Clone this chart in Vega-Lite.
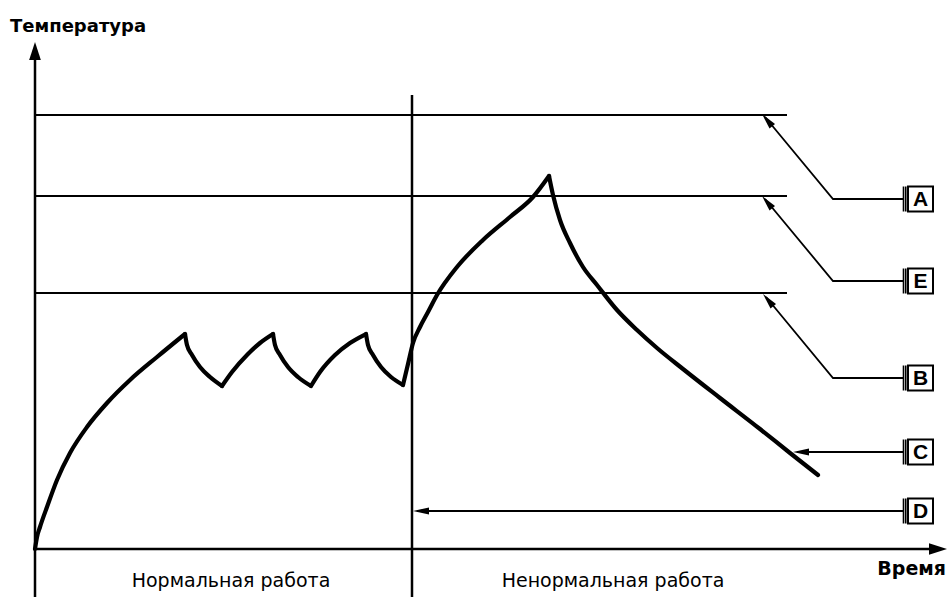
{
  "$schema": "https://vega.github.io/schema/vega-lite/v6.json",
  "width": 949,
  "height": 597,
  "padding": 0,
  "autosize": {"type": "none"},
  "background": "white",
  "config": {"view": {"stroke": null}},
  "datasets": {
    "curve": [
      {"seg": "a", "i": 0, "s": 0, "t": 0}, {"seg": "a", "i": 1, "s": 2, "t": 12}, {"seg": "a", "i": 2, "s": 5, "t": 22}, {"seg": "a", "i": 3, "s": 12, "t": 42},
      {"seg": "a", "i": 4, "s": 22, "t": 69}, {"seg": "a", "i": 5, "s": 35, "t": 96}, {"seg": "a", "i": 6, "s": 52, "t": 122}, {"seg": "a", "i": 7, "s": 72, "t": 146},
      {"seg": "a", "i": 8, "s": 95, "t": 169}, {"seg": "a", "i": 9, "s": 122, "t": 192}, {"seg": "a", "i": 10, "s": 150, "t": 215},
      {"seg": "b", "i": 10, "s": 150, "t": 215}, {"seg": "b", "i": 11, "s": 152, "t": 204}, {"seg": "b", "i": 12, "s": 157, "t": 194}, {"seg": "b", "i": 13, "s": 165, "t": 182}, {"seg": "b", "i": 14, "s": 175, "t": 172}, {"seg": "b", "i": 15, "s": 187, "t": 163},
      {"seg": "c", "i": 15, "s": 187, "t": 163}, {"seg": "c", "i": 16, "s": 197, "t": 177}, {"seg": "c", "i": 17, "s": 212, "t": 194}, {"seg": "c", "i": 18, "s": 225, "t": 206}, {"seg": "c", "i": 19, "s": 238, "t": 215},
      {"seg": "d", "i": 19, "s": 238, "t": 215}, {"seg": "d", "i": 20, "s": 240, "t": 204}, {"seg": "d", "i": 21, "s": 245, "t": 194}, {"seg": "d", "i": 22, "s": 253, "t": 182}, {"seg": "d", "i": 23, "s": 263, "t": 172}, {"seg": "d", "i": 24, "s": 276, "t": 163},
      {"seg": "e", "i": 24, "s": 276, "t": 163}, {"seg": "e", "i": 25, "s": 285, "t": 177}, {"seg": "e", "i": 26, "s": 300, "t": 194}, {"seg": "e", "i": 27, "s": 315, "t": 206}, {"seg": "e", "i": 28, "s": 331, "t": 215},
      {"seg": "f", "i": 28, "s": 331, "t": 215}, {"seg": "f", "i": 29, "s": 333, "t": 204}, {"seg": "f", "i": 30, "s": 338, "t": 194}, {"seg": "f", "i": 31, "s": 346, "t": 182}, {"seg": "f", "i": 32, "s": 356, "t": 172}, {"seg": "f", "i": 33, "s": 368, "t": 164},
      {"seg": "g", "i": 33, "s": 368, "t": 164}, {"seg": "g", "i": 34, "s": 373, "t": 185}, {"seg": "g", "i": 35, "s": 378, "t": 206}, {"seg": "g", "i": 36, "s": 385, "t": 222}, {"seg": "g", "i": 37, "s": 393, "t": 237},
      {"seg": "g", "i": 38, "s": 402, "t": 254}, {"seg": "g", "i": 39, "s": 422, "t": 282}, {"seg": "g", "i": 40, "s": 448, "t": 309}, {"seg": "g", "i": 41, "s": 475, "t": 332},
      {"seg": "g", "i": 42, "s": 498, "t": 352}, {"seg": "g", "i": 43, "s": 514, "t": 373},
      {"seg": "h", "i": 43, "s": 514, "t": 373}, {"seg": "h", "i": 44, "s": 518, "t": 354}, {"seg": "h", "i": 45, "s": 525, "t": 329}, {"seg": "h", "i": 46, "s": 535, "t": 306}, {"seg": "h", "i": 47, "s": 548, "t": 282},
      {"seg": "h", "i": 48, "s": 562, "t": 264}, {"seg": "h", "i": 50, "s": 582, "t": 239}, {"seg": "h", "i": 51, "s": 602, "t": 219},
      {"seg": "h", "i": 52, "s": 622, "t": 201}, {"seg": "h", "i": 53, "s": 648, "t": 180}, {"seg": "h", "i": 54, "s": 685, "t": 151}, {"seg": "h", "i": 55, "s": 725, "t": 120},
      {"seg": "h", "i": 56, "s": 755, "t": 96}, {"seg": "h", "i": 57, "s": 783, "t": 74}
    ],
    "levels": [
      {"name": "A", "s": 0, "s2": 752, "t": 434, "t2": 434},
      {"name": "E", "s": 0, "s2": 752, "t": 353, "t2": 353},
      {"name": "B", "s": 0, "s2": 752, "t": 256, "t2": 256}
    ],
    "frame": [
      {"name": "y-axis", "s": 0, "s2": 0, "t": -48, "t2": 495},
      {"name": "x-axis", "s": 0, "s2": 900, "t": 0, "t2": 0},
      {"name": "split", "s": 377, "s2": 377, "t": -48, "t2": 454}
    ],
    "leaders": [
      {"id": "A", "o": 0, "s": 868, "t": 350}, {"id": "A", "o": 1, "s": 798, "t": 350}, {"id": "A", "o": 2, "s": 730, "t": 432},
      {"id": "E", "o": 0, "s": 868, "t": 268}, {"id": "E", "o": 1, "s": 798, "t": 268}, {"id": "E", "o": 2, "s": 730, "t": 350},
      {"id": "B", "o": 0, "s": 868, "t": 171}, {"id": "B", "o": 1, "s": 798, "t": 171}, {"id": "B", "o": 2, "s": 731, "t": 252},
      {"id": "C", "o": 0, "s": 868, "t": 97}, {"id": "C", "o": 1, "s": 762, "t": 97},
      {"id": "D", "o": 0, "s": 868, "t": 38}, {"id": "D", "o": 1, "s": 382, "t": 38}
    ],
    "heads": [
      {"dir": "up", "s": 0, "t": 507},
      {"dir": "right", "s": 912, "t": 0},
      {"dir": "left", "s": 758, "t": 97},
      {"dir": "left", "s": 378, "t": 38},
      {"dir": "upleft", "s": 727, "t": 435},
      {"dir": "upleft", "s": 727, "t": 353},
      {"dir": "upleft", "s": 728, "t": 255}
    ],
    "boxes": [
      {"label": "A", "s": 885.5, "t": 350},
      {"label": "E", "s": 885.5, "t": 268},
      {"label": "B", "s": 885.5, "t": 171},
      {"label": "C", "s": 885.5, "t": 97},
      {"label": "D", "s": 885.5, "t": 38}
    ],
    "labels": [
      {"text": "Нормальная работа", "s": 196, "t": -38},
      {"text": "Ненормальная работа", "s": 578, "t": -38}
    ]
  },
  "encoding": {
    "x": {"field": "s", "type": "quantitative", "scale": {"domain": [-35, 914], "nice": false, "zero": false}, "axis": null},
    "y": {"field": "t", "type": "quantitative", "scale": {"domain": [-48, 549], "nice": false, "zero": false}, "axis": null}
  },
  "layer": [
    {
      "data": {"name": "levels"},
      "mark": {"type": "rule", "color": "black", "strokeWidth": 2},
      "encoding": {"x2": {"field": "s2"}, "y2": {"field": "t2"}}
    },
    {
      "data": {"name": "frame"},
      "mark": {"type": "rule", "color": "black", "strokeWidth": 2.5},
      "encoding": {"x2": {"field": "s2"}, "y2": {"field": "t2"}}
    },
    {
      "data": {"name": "leaders"},
      "mark": {"type": "line", "color": "black", "strokeWidth": 1.8},
      "encoding": {"detail": {"field": "id"}, "order": {"field": "o"}}
    },
    {
      "data": {"name": "curve"},
      "mark": {"type": "line", "color": "black", "strokeWidth": 4.2, "interpolate": "monotone", "strokeCap": "round", "strokeJoin": "round"},
      "encoding": {"detail": {"field": "seg"}, "order": {"field": "i"}}
    },
    {
      "data": {"name": "heads"},
      "transform": [{"filter": "datum.dir === 'up'"}],
      "mark": {"type": "point", "shape": "M0,0L0.65,2L-0.65,2Z", "size": 324, "filled": true, "color": "black", "opacity": 1, "angle": 0}
    },
    {
      "data": {"name": "heads"},
      "transform": [{"filter": "datum.dir === 'right'"}],
      "mark": {"type": "point", "shape": "M0,0L0.65,2L-0.65,2Z", "size": 324, "filled": true, "color": "black", "opacity": 1, "angle": 90}
    },
    {
      "data": {"name": "heads"},
      "transform": [{"filter": "datum.dir === 'left'"}],
      "mark": {"type": "point", "shape": "M0,0L0.45,2L-0.45,2Z", "size": 256, "filled": true, "color": "black", "opacity": 1, "angle": 270}
    },
    {
      "data": {"name": "heads"},
      "transform": [{"filter": "datum.dir === 'upleft'"}],
      "mark": {"type": "point", "shape": "M0,0L0.45,2L-0.45,2Z", "size": 256, "filled": true, "color": "black", "opacity": 1, "angle": 320}
    },
    {
      "data": {"name": "boxes"},
      "mark": {"type": "point", "shape": "M-1,-1L1,-1L1,1L-1,1Z", "size": 625, "filled": false, "color": "black", "opacity": 1, "strokeWidth": 2}
    },
    {
      "data": {"name": "boxes"},
      "mark": {"type": "point", "shape": "M-1.36,-1L-1.36,1M-1.18,-1L-1.18,1", "size": 625, "filled": false, "color": "black", "opacity": 1, "strokeWidth": 1.6}
    },
    {
      "data": {"name": "boxes"},
      "mark": {"type": "text", "font": "Liberation Sans", "fontWeight": "bold", "fontSize": 21, "baseline": "middle", "align": "center", "dy": 1, "color": "black"},
      "encoding": {"text": {"field": "label"}}
    },
    {
      "data": {"name": "labels"},
      "mark": {"type": "text", "font": "DejaVu Sans", "fontSize": 19, "baseline": "alphabetic", "align": "center", "color": "black"},
      "encoding": {"text": {"field": "text"}}
    },
    {
      "data": {"values": [{"text": "Время", "s": 911, "t": -26}]},
      "mark": {"type": "text", "font": "DejaVu Sans", "fontSize": 19, "fontWeight": "bold", "baseline": "alphabetic", "align": "right", "color": "black"},
      "encoding": {"text": {"field": "text"}}
    },
    {
      "data": {"values": [{"text": "Температура", "s": -25, "t": 517}]},
      "mark": {"type": "text", "font": "DejaVu Sans", "fontSize": 18, "fontWeight": "bold", "baseline": "alphabetic", "align": "left", "color": "black"},
      "encoding": {"text": {"field": "text"}}
    }
  ]
}
